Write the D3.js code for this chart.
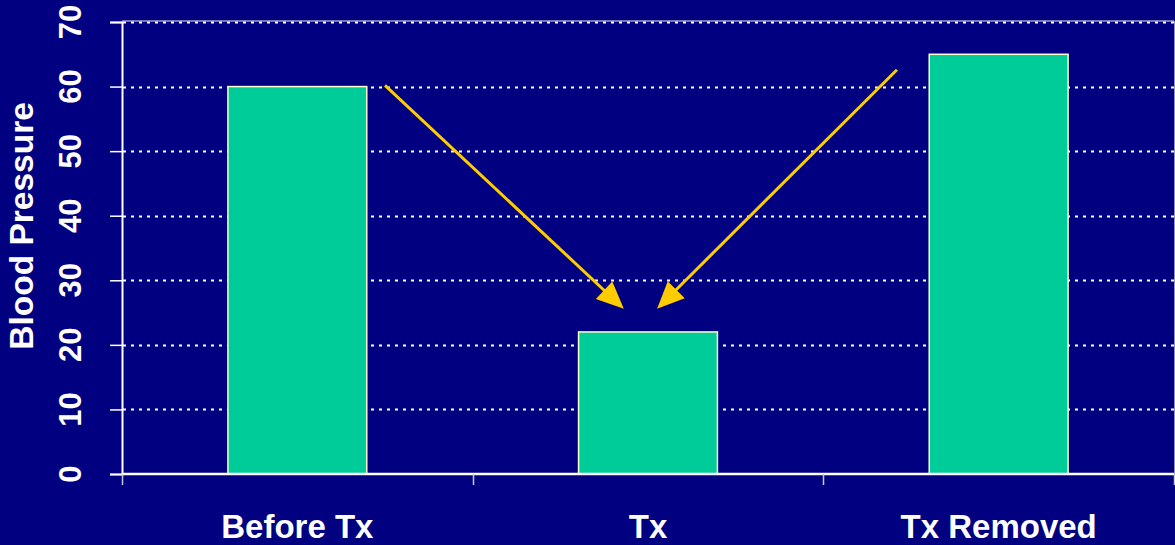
<!DOCTYPE html>
<html>
<head>
<meta charset="utf-8">
<script src="https://cdn.jsdelivr.net/npm/d3@7"></script>
<style>
  html, body { margin: 0; padding: 0; background: #000080; }
  svg { display: block; }
  text { font-family: "Liberation Sans", Arial, sans-serif; font-weight: bold; fill: #ffffff; }
</style>
</head>
<body>
<svg id="chart" width="1175" height="545"></svg>
<script>
// ---- data ----
const categories = ["Before Tx", "Tx", "Tx Removed"];
const values = [60, 22, 65];
const yTicks = [0, 10, 20, 30, 40, 50, 60, 70];
const yLabel = "Blood Pressure";
// arrows in data units: x as position along category axis (0..3), y as value
const arrowStartX = [0.75, 2.21];
const arrowStartY = [60.2, 62.6];
const arrowEndX = [1.431, 1.526];
const arrowEndY = [25.6, 25.6];

// ---- layout ----
const W = 1175, H = 545;
const m = { left: 122, right: 1, top: 22, bottom: 71 };
const svg = d3.select("#chart");
svg.append("rect").attr("width", W).attr("height", H).attr("fill", "#000080");

const x = d3.scaleBand().domain(categories)
  .range([m.left, W - m.right]).paddingInner(0.604).paddingOuter(0.302);
const xPos = d3.scaleLinear().domain([0, categories.length]).range([m.left, W - m.right]);
const y = d3.scaleLinear().domain([0, 70]).range([H - m.bottom, m.top]);

// gridlines (dotted)
svg.append("g").selectAll("line").data(yTicks.filter(d => d > 0)).join("line")
  .attr("x1", m.left + 1).attr("x2", W - m.right)
  .attr("y1", d => Math.round(y(d)) + 0.5).attr("y2", d => Math.round(y(d)) + 0.5)
  .attr("stroke", "#ffffff").attr("stroke-width", 2.2).attr("stroke-dasharray", "3,5");

// plot border top/right
svg.append("line").attr("x1", m.left).attr("x2", W - m.right)
  .attr("y1", y(70) - 1).attr("y2", y(70) - 1).attr("stroke", "#e8e8f0").attr("stroke-width", 1);
svg.append("line").attr("x1", W - m.right + 0.5).attr("x2", W - m.right + 0.5)
  .attr("y1", y(70) - 1).attr("y2", y(0)).attr("stroke", "#9090b8").attr("stroke-width", 1);

// bars
svg.append("g").selectAll("rect").data(categories).join("rect")
  .attr("x", d => x(d))
  .attr("width", x.bandwidth())
  .attr("y", (d, i) => y(values[i]))
  .attr("height", (d, i) => y(0) - y(values[i]))
  .attr("fill", "#00CC99")
  .attr("stroke", "#FFFFCC").attr("stroke-width", 1.5);

// y axis
const yAxis = d3.axisLeft(y).tickValues(yTicks).tickSize(12).tickFormat("");
const gy = svg.append("g").attr("transform", `translate(${m.left},0)`).call(yAxis);
gy.select(".domain").attr("stroke", "#ffffff").attr("stroke-width", 2);
gy.selectAll(".tick line").attr("stroke", "#ffffff").attr("stroke-width", 1.5);

// y tick labels (rotated)
svg.append("g").selectAll("text").data(yTicks).join("text")
  .attr("transform", d => `translate(81,${y(d)}) rotate(-90)`)
  .attr("text-anchor", "middle")
  .attr("font-size", 31)
  .text(d => d);

// x axis
const boundaries = d3.range(categories.length + 1);
svg.append("line").attr("x1", m.left).attr("x2", W - m.right)
  .attr("y1", y(0)).attr("y2", y(0)).attr("stroke", "#ffffff").attr("stroke-width", 2.5);
svg.append("g").selectAll("line").data(boundaries).join("line")
  .attr("x1", d => Math.round(xPos(d)) + 0.5).attr("x2", d => Math.round(xPos(d)) + 0.5)
  .attr("y1", y(0)).attr("y2", y(0) + 11)
  .attr("stroke", "#c8c8e0").attr("stroke-width", 1.5);

// category labels
svg.append("g").selectAll("text").data(categories).join("text")
  .attr("x", d => x(d) + x.bandwidth() / 2)
  .attr("y", 538)
  .attr("text-anchor", "middle")
  .attr("font-size", 33)
  .text(d => d);

// y axis title
svg.append("text")
  .attr("transform", `translate(33,226) rotate(-90)`)
  .attr("text-anchor", "middle")
  .attr("font-size", 33.5)
  .text(yLabel);

// arrows
const arrowColor = "#FFCC00";
const ga = svg.append("g");
arrowStartX.forEach((sx, i) => {
  const x0 = xPos(sx), y0 = y(arrowStartY[i]);
  const x1 = xPos(arrowEndX[i]), y1 = y(arrowEndY[i]);
  const dx = x1 - x0, dy = y1 - y0, L = Math.hypot(dx, dy);
  const ux = dx / L, uy = dy / L;
  const headLen = 27, headW = 12;
  const bx = x1 - ux * headLen, by = y1 - uy * headLen;
  ga.append("line").attr("x1", x0).attr("y1", y0)
    .attr("x2", bx + ux * 4).attr("y2", by + uy * 4)
    .attr("stroke", arrowColor).attr("stroke-width", 3);
  ga.append("polygon")
    .attr("points", [[x1, y1], [bx - uy * headW, by + ux * headW], [bx + uy * headW, by - ux * headW]].map(p => p.join(",")).join(" "))
    .attr("fill", arrowColor);
});
</script>
</body>
</html>
